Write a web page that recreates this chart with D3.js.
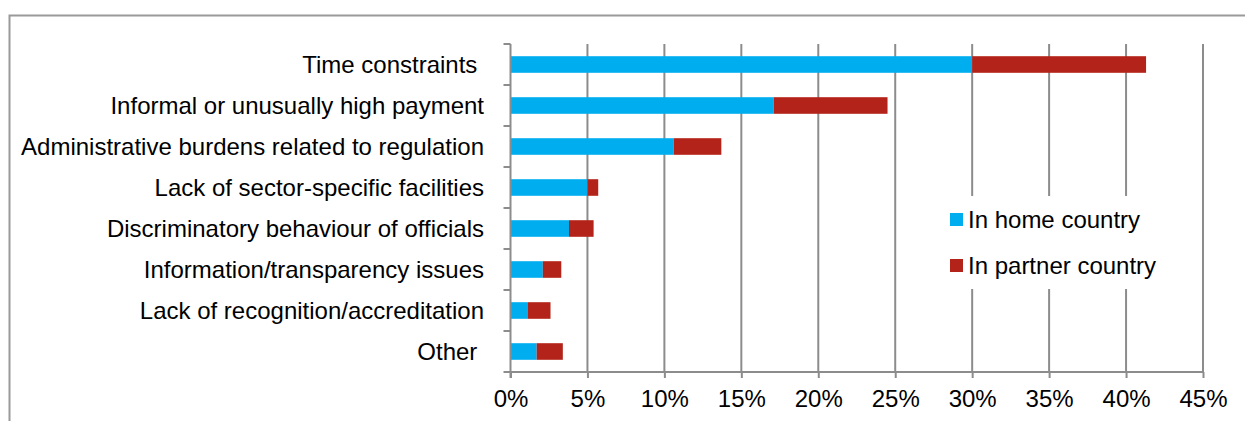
<!DOCTYPE html>
<html>
<head>
<meta charset="utf-8">
<script src="https://cdn.jsdelivr.net/npm/d3@7"></script>
<style>
  html, body { margin: 0; padding: 0; background: #fff; }
  svg { display: block; font-family: "Liberation Sans", Arial, sans-serif; }
</style>
</head>
<body>
<svg id="chart" width="1245" height="421"></svg>
<script>
// Obstacles encountered, share of respondents (%)
const categories = [
  "Time constraints ",
  "Informal or unusually high payment",
  "Administrative burdens related to regulation",
  "Lack of sector-specific facilities",
  "Discriminatory behaviour of officials",
  "Information/transparency issues",
  "Lack of recognition/accreditation",
  "Other "
];
const homeCountry    = [30.0, 17.1, 10.6, 5.0, 3.8, 2.1, 1.1, 1.7];
const partnerCountry = [11.3,  7.4,  3.1, 0.7, 1.6, 1.2, 1.5, 1.7];
const seriesNames = ["In home country", "In partner country"];
const seriesColors = ["#00AEEF", "#B3231A"];
const xTicks = [0, 5, 10, 15, 20, 25, 30, 35, 40, 45];

const svg = d3.select("#chart");
const W = 1245, H = 421;
const plot = { left: 510.5, right: 1203, top: 44, bottom: 372 };
const gridColor = "#8c8c8c";
const fontSize = "24px";

// outer chart frame (open at right and bottom)
svg.append("path")
  .attr("d", `M9.5,${H} V15.5 H${W}`)
  .attr("fill", "none")
  .attr("stroke", "#9a9a9a")
  .attr("stroke-width", 2);

const x = d3.scaleLinear().domain([0, 45]).range([plot.left, plot.right]);
const y = d3.scaleBand().domain(categories).range([plot.top, plot.bottom])
  .paddingInner(0.595).paddingOuter(0.2975);

// vertical gridlines
svg.append("g").selectAll("line")
  .data(xTicks.slice(1))
  .join("line")
  .attr("x1", d => x(d)).attr("x2", d => x(d))
  .attr("y1", plot.top).attr("y2", plot.bottom)
  .attr("stroke", gridColor).attr("stroke-width", 2);

// stacked bars
const rows = categories.map((c, i) => ({ c, home: homeCountry[i], partner: partnerCountry[i] }));
const stack = d3.stack().keys(["home", "partner"])(rows);
svg.append("g").selectAll("g")
  .data(stack)
  .join("g")
  .attr("fill", (d, i) => seriesColors[i])
  .selectAll("rect")
  .data(d => d)
  .join("rect")
  .attr("x", d => x(d[0]))
  .attr("width", d => x(d[1]) - x(d[0]))
  .attr("y", d => y(d.data.c))
  .attr("height", y.bandwidth());

// x axis
const xAxis = svg.append("g")
  .attr("transform", `translate(0,${plot.bottom})`)
  .call(d3.axisBottom(x).tickValues(xTicks).tickFormat(d => d + "%").tickSize(6).tickSizeOuter(0).tickPadding(12));
xAxis.select(".domain").remove();
xAxis.append("line")
  .attr("x1", plot.left - 7).attr("x2", plot.right)
  .attr("stroke", gridColor).attr("stroke-width", 2);
xAxis.selectAll(".tick line").attr("stroke", gridColor).attr("stroke-width", 2);
xAxis.selectAll(".tick text")
  .attr("fill", "#000")
  .attr("font-size", fontSize)
  .attr("font-family", "Liberation Sans, Arial, sans-serif");

// y axis line and category boundary ticks
const step = y.step();
const bounds = d3.range(categories.length).map(i => plot.top + i * step);
svg.append("line")
  .attr("x1", plot.left).attr("x2", plot.left)
  .attr("y1", plot.top).attr("y2", plot.bottom + 6)
  .attr("stroke", gridColor).attr("stroke-width", 2);
svg.append("g").selectAll("line")
  .data(bounds)
  .join("line")
  .attr("x1", plot.left - 7).attr("x2", plot.left)
  .attr("y1", d => d).attr("y2", d => d)
  .attr("stroke", gridColor).attr("stroke-width", 2);

// category labels
svg.append("g").selectAll("text")
  .data(categories)
  .join("text")
  .attr("x", 484)
  .attr("y", d => y(d) + y.bandwidth() / 2)
  .attr("dy", "0.36em")
  .attr("text-anchor", "end")
  .attr("font-size", fontSize)
  .attr("fill", "#000")
  .style("white-space", "pre")
  .text(d => d);

// legend
const legend = svg.append("g");
legend.append("rect")
  .attr("x", 938).attr("y", 196).attr("width", 232).attr("height", 93)
  .attr("fill", "#fff");
const legendRows = legend.selectAll("g")
  .data(seriesNames)
  .join("g")
  .attr("transform", (d, i) => `translate(950,${213 + i * 46})`);
legendRows.append("rect")
  .attr("width", 13).attr("height", 13)
  .attr("fill", (d, i) => seriesColors[i]);
legendRows.append("text")
  .attr("x", 18).attr("y", 6.5).attr("dy", "0.36em")
  .attr("font-size", fontSize)
  .attr("fill", "#000")
  .text(d => d);
</script>
</body>
</html>
